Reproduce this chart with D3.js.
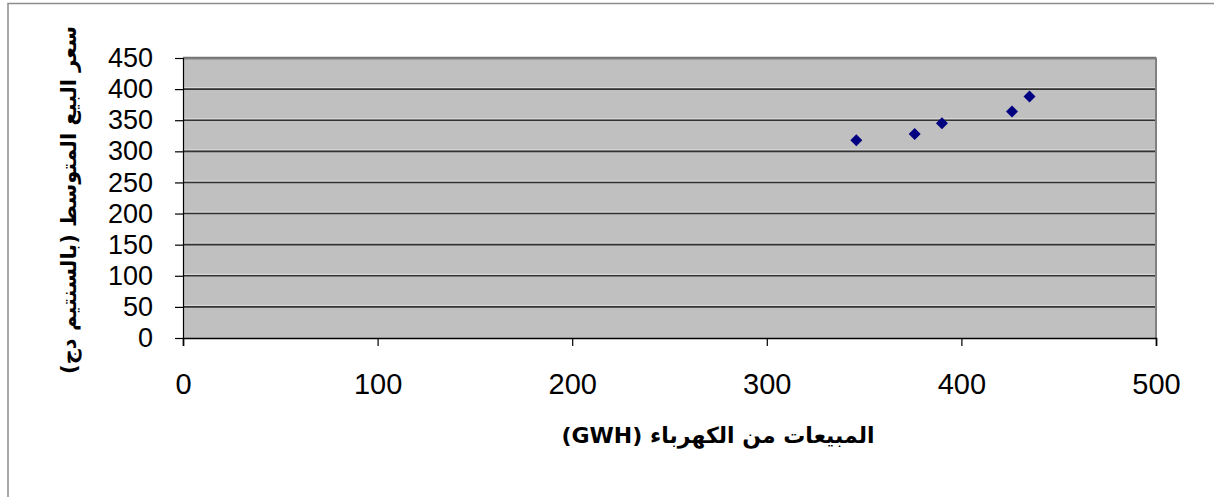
<!DOCTYPE html>
<html lang="ar">
<head>
<meta charset="UTF-8">
<title>Scatter</title>
<style>
  body { margin: 0; background: #fff; }
  svg { display: block; }
  .tick text { font-family: "Liberation Sans", Arial, sans-serif; fill: #000; }
  .title { font-family: "DejaVu Sans", "Liberation Sans", sans-serif; font-weight: bold; fill: #000; }
</style>
<script src="https://d3js.org/d3.v7.min.js"></script>
</head>
<body>
<script>
// values
const sales = [346, 376, 390, 426, 435];      // GWH
const price = [318, 328, 345, 364, 388];      // average selling price
const xTicks = [0, 100, 200, 300, 400, 500];
const yTicks = [0, 50, 100, 150, 200, 250, 300, 350, 400, 450];
const xTitle = "المبيعات من الكهرباء (GWH)";
const yTitle = "سعر البيع المتوسط (بالسنتيم دج)";

const W = 1214, H = 497;
const m = { top: 58, left: 183, right: 1214 - 1156, bottom: 497 - 338 };
const w = W - m.left - m.right, h = H - m.top - m.bottom;

const svg = d3.select("body").append("svg")
  .attr("width", W).attr("height", H);

// outer frame (top and left edges only visible)
svg.append("path")
  .attr("d", `M8,${H} V3.5 H${W}`)
  .attr("fill", "none").attr("stroke", "#8c8c8c").attr("stroke-width", 1.5);

const g = svg.append("g").attr("transform", `translate(${m.left},${m.top})`);

const x = d3.scaleLinear().domain([0, 500]).range([0, w]);
const y = d3.scaleLinear().domain([0, 450]).range([h, 0]);

g.append("rect").attr("width", w).attr("height", h).attr("fill", "#c0c0c0");

// gridlines
const grid = g.append("g");
grid.selectAll("line.hi").data(yTicks.filter(d => d > 0)).join("line")
  .attr("class", "hi")
  .attr("x1", 0).attr("x2", w)
  .attr("y1", d => y(d) - 1.5).attr("y2", d => y(d) - 1.5)
  .attr("stroke", "#dcdcdc").attr("stroke-width", 1);
grid.selectAll("line.lo").data(yTicks.filter(d => d > 0)).join("line")
  .attr("class", "lo")
  .attr("x1", 0).attr("x2", w)
  .attr("y1", d => y(d)).attr("y2", d => y(d))
  .attr("stroke", "#333").attr("stroke-width", 1.6);

// plot border (top + right in gray)
g.append("path")
  .attr("d", `M0,0.5 H${w} V${h}`)
  .attr("fill", "none").attr("stroke", "#808080").attr("stroke-width", 2);

// axes
const xAxis = g.append("g")
  .attr("transform", `translate(0,${h})`)
  .call(d3.axisBottom(x).tickValues(xTicks).tickSize(8).tickPadding(27).tickFormat(d3.format("d")));
xAxis.select(".domain").attr("stroke", "#000").attr("stroke-width", 1.6);
xAxis.selectAll(".tick line").attr("stroke", "#000").attr("stroke-width", 1.2);
xAxis.selectAll(".tick text").style("font-size", "29px");

const yAxis = g.append("g")
  .call(d3.axisLeft(y).tickValues(yTicks).tickSize(8).tickPadding(22).tickFormat(d3.format("d")));
yAxis.select(".domain").attr("stroke", "#000").attr("stroke-width", 1.2);
yAxis.selectAll(".tick line").attr("stroke", "#000").attr("stroke-width", 1.2);
yAxis.selectAll(".tick text").style("font-size", "27px");

// points
g.selectAll("path.pt").data(sales.map((s, i) => [s, price[i]])).join("path")
  .attr("class", "pt")
  .attr("d", d3.symbol(d3.symbolSquare, 72))
  .attr("transform", d => `translate(${x(d[0])},${y(d[1])}) rotate(45)`)
  .attr("fill", "#000080");

// titles
svg.append("text")
  .attr("class", "title")
  .attr("x", 718).attr("y", 443)
  .attr("text-anchor", "middle")
  .attr("direction", "rtl")
  .style("font-size", "22px")
  .text(xTitle);

svg.append("text")
  .attr("class", "title")
  .attr("transform", "translate(76,200) rotate(-90)")
  .attr("text-anchor", "middle")
  .attr("direction", "rtl")
  .style("font-size", "21px")
  .text(yTitle);
</script>
</body>
</html>
